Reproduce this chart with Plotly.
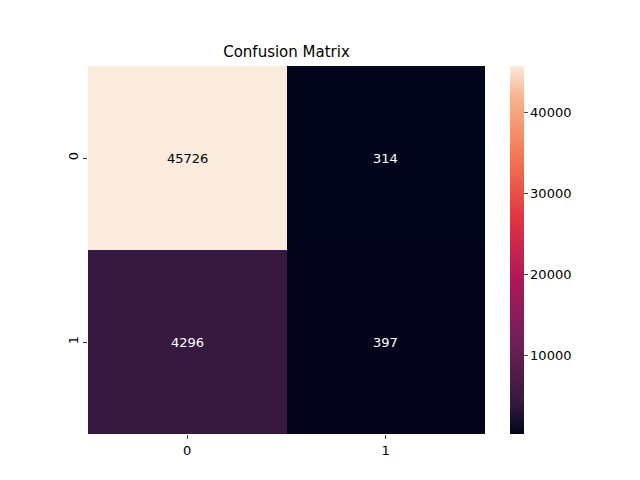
import plotly.graph_objects as go

labels = ["0", "1"]
values = [[45726, 314], [4296, 397]]

rocket = [[0.0, "#03051A"], [1/12, "#35193e"], [3/12, "#701f57"], [5/12, "#ad1759"],
          [7/12, "#e13342"], [9/12, "#f37651"], [11/12, "#f6b48f"], [1.0, "#FAEBDD"]]

vmin = min(min(r) for r in values); vmax = max(max(r) for r in values)
fig = go.Figure(go.Heatmap(
    z=values, x=labels, y=labels, colorscale=rocket, zmin=vmin, zmax=vmax,
    xgap=0, ygap=0,
    colorbar=dict(x=1.063, xanchor="left", thickness=14, len=1, lenmode="fraction",
                  y=0.5, yanchor="middle", outlinewidth=0, ticks="outside", ticklen=4,
                  xpad=0, ypad=0, tickformat="d",
                  tickvals=[10000, 20000, 30000, 40000], tickfont=dict(size=13, color="black"))))

for i, row in enumerate(values):
    for j, v in enumerate(row):
        frac = (v - vmin) / (vmax - vmin)
        fig.add_annotation(x=labels[j], y=labels[i], text=str(v), showarrow=False,
                           font=dict(size=13, color="black" if frac > 0.5 else "white"))

fig.update_layout(
    width=640, height=480, paper_bgcolor="white", plot_bgcolor="white",
    margin=dict(l=80, r=163, t=58, b=54, autoexpand=False),
    title=dict(text="Confusion Matrix", x=(80 + 477) / 2 / 640, xanchor="center", y=1 - 44 / 480,
               yanchor="middle", font=dict(size=15, color="black")),
    font=dict(family="DejaVu Sans", color="black"),
    xaxis=dict(ticks="outside", ticklen=4, tickfont=dict(size=13), showgrid=False, zeroline=False),
    yaxis=dict(ticks="outside", ticklen=4, tickfont=dict(size=13), tickangle=-90,
               autorange="reversed", showgrid=False, zeroline=False),
)
fig.write_html("out.html")
